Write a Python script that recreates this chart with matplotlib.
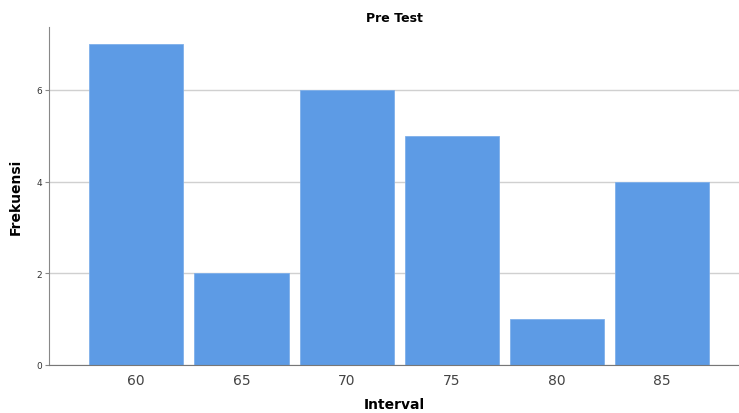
import numpy as np
import matplotlib.pyplot as plt

intervals = ['60', '65', '70', '75', '80', '85']
frekuensi = [7, 2, 6, 5, 1, 4]
y_ticks = [0, 2, 4, 6]

fig = plt.figure(figsize=(7.39, 4.14), dpi=100)
ax = fig.add_axes([49 / 739, 48 / 414, 690 / 739, 338 / 414])

x = np.arange(len(intervals))
ax.bar(x, frekuensi, width=0.895, color='#5d9be5', edgecolor='#7fb0ea', linewidth=0.6, zorder=2)

ax.set_xlim(-0.83, 5.73)
ax.set_ylim(0, 7.37)
ax.set_xticks(x)
ax.set_xticklabels(intervals, fontsize=10, color='#444444')
ax.set_yticks(y_ticks)
ax.set_yticklabels([str(v) for v in y_ticks], fontsize=6.5, color='#333333')
ax.tick_params(axis='x', length=0, pad=6)
ax.tick_params(axis='y', length=3, width=0.8, color='#888888', pad=2)

ax.yaxis.grid(True, color='#d0d0d0', linewidth=1, zorder=0)
ax.set_axisbelow(True)
for s in ['top', 'right']:
    ax.spines[s].set_visible(False)
ax.spines['left'].set_color('#888888')
ax.spines['bottom'].set_color('#777777')

ax.set_title('Pre Test', fontsize=9, fontweight='bold', pad=4)
ax.set_ylabel('Frekuensi', fontsize=10, fontweight='bold', labelpad=10)
ax.set_xlabel('Interval', fontsize=10, fontweight='bold', labelpad=7)

fig.savefig('out.png', dpi=100)
